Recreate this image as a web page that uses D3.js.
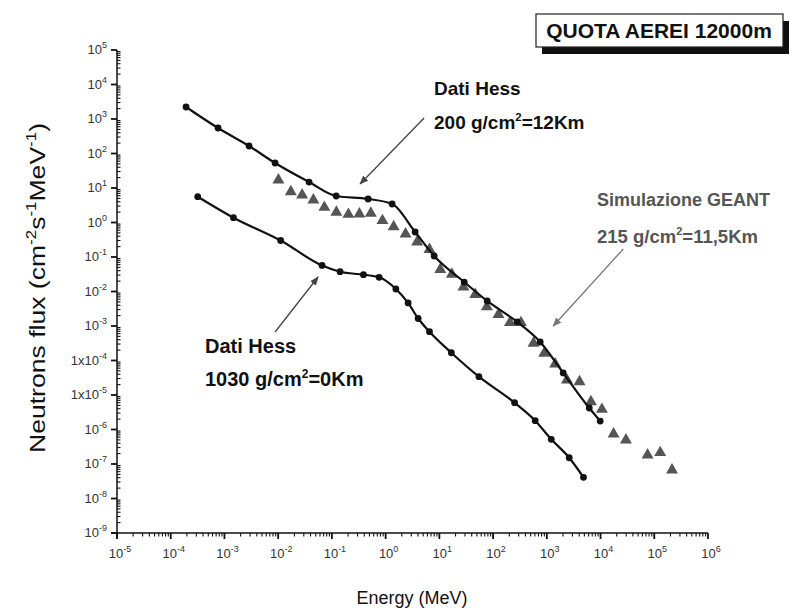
<!DOCTYPE html>
<html>
<head>
<meta charset="utf-8">
<script src="https://cdn.jsdelivr.net/npm/d3@7"></script>
<style>
  body { margin: 0; background: #fff; }
  svg { display: block; font-family: "Liberation Sans", Arial, sans-serif; }
</style>
</head>
<body>
<svg id="chart" width="807" height="612"></svg>
<script>
// Hess data, 200 g/cm2 (12 km)
const hessHighE = [1.93e-4, 7.6e-4, 2.87e-3, 8.75e-3, 3.76e-2, 0.12, 0.472, 1.32, 3.54, 8.0, 29, 77.6, 281, 753, 2020, 6170, 9860]
const hessHighF = [2230, 548, 165, 53.1, 14.9, 5.86, 4.8, 3.44, 0.531, 0.107, 1.88e-2, 5.31e-3, 1.31e-3, 3.44e-4, 4.35e-5, 4.2e-6, 1.76e-6]

// Hess data, 1030 g/cm2 (sea level)
const hessLowE = [3.18e-4, 1.47e-3, 1.11e-2, 6.56e-2, 0.142, 0.386, 0.757, 1.55, 2.62, 4.03, 6.55, 16.7, 54.5, 251, 608, 1210, 2610, 4820]
const hessLowF = [5.6, 1.38, 0.301, 5.68e-2, 3.75e-2, 3.07e-2, 2.58e-2, 1.18e-2, 4.65e-3, 1.65e-3, 6.84e-4, 1.68e-4, 3.39e-5, 5.98e-6, 1.8e-6, 5.2e-7, 1.52e-7, 4.11e-8]

// GEANT simulation, 215 g/cm2
const geantE = [1.01e-2, 1.72e-2, 2.79e-2, 4.52e-2, 7.24e-2, 0.121, 0.203, 0.325, 0.53, 0.871, 1.41, 2.35, 3.86, 6.55, 10.4, 17.1, 28.1, 46.5, 76.7, 126, 206, 330, 565, 895, 1430, 2370, 4060, 6620, 10600, 17500, 29700, 75000, 129000, 214000]
const geantF = [17.1, 7.82, 6.27, 4.49, 2.76, 1.98, 1.73, 1.76, 1.85, 1.13, 0.755, 0.465, 0.272, 0.165, 4.35e-2, 3.17e-2, 1.35e-2, 8.18e-3, 3.62e-3, 2.15e-3, 1.25e-3, 1.25e-3, 3.16e-4, 1.62e-4, 7.93e-5, 2.72e-5, 2.43e-5, 6.4e-6, 3.85e-6, 7.41e-7, 4.97e-7, 1.82e-7, 2.13e-7, 6.7e-8]

const xExps = [-5, -4, -3, -2, -1, 0, 1, 2, 3, 4, 5, 6]
const yExps = [5, 4, 3, 2, 1, 0, -1, -2, -3, -4, -5, -6, -7, -8, -9]
const yPrefixed = [-4, -5] // shown as 1x10^n

const svg = d3.select("#chart")
const x = d3.scaleLog().domain([1e-5, 1e6]).range([117, 708])
const y = d3.scaleLog().domain([1e-9, 1e5]).range([533, 50])

const zip = (a, b) => a.map((v, i) => [v, b[i]])

// minor tick values: 2..9 x 10^k
const minorX = []
for (let k = -5; k < 6; k++) for (let m = 2; m <= 9; m++) minorX.push(m * Math.pow(10, k))
const minorY = []
for (let k = -9; k < 5; k++) for (let m = 2; m <= 9; m++) minorY.push(m * Math.pow(10, k))

const axisColor = "#111"
const axes = svg.append("g").attr("stroke", axisColor).attr("stroke-width", 1.5)

// x axis
axes.append("line").attr("x1", x(1e-5) - 6).attr("x2", x(1e6)).attr("y1", y(1e-9)).attr("y2", y(1e-9))
axes.selectAll(".xmaj").data(xExps).join("line")
  .attr("x1", (d) => x(Math.pow(10, d))).attr("x2", (d) => x(Math.pow(10, d)))
  .attr("y1", y(1e-9)).attr("y2", y(1e-9) + 6).attr("stroke-width", 1.8)
axes.selectAll(".xmin").data(minorX).join("line")
  .attr("x1", (d) => x(d)).attr("x2", (d) => x(d))
  .attr("y1", y(1e-9)).attr("y2", y(1e-9) + 3.5).attr("stroke-width", 1.1)

// y axis
axes.append("line").attr("x1", x(1e-5)).attr("x2", x(1e-5)).attr("y1", y(1e5)).attr("y2", y(1e-9) + 6)
axes.selectAll(".ymaj").data(yExps).join("line")
  .attr("x1", x(1e-5) - 6).attr("x2", x(1e-5))
  .attr("y1", (d) => y(Math.pow(10, d))).attr("y2", (d) => y(Math.pow(10, d))).attr("stroke-width", 1.8)
axes.selectAll(".ymin").data(minorY).join("line")
  .attr("x1", x(1e-5)).attr("x2", x(1e-5) + 3.5)
  .attr("y1", (d) => y(d)).attr("y2", (d) => y(d)).attr("stroke-width", 1.1)

// tick labels with superscript exponents
const labColor = "#333"
const xl = svg.append("g").attr("fill", labColor).attr("font-size", 13).attr("text-anchor", "middle")
xExps.forEach((e) => {
  const t = xl.append("text").attr("x", x(Math.pow(10, e)) + 3).attr("y", y(1e-9) + 25)
  t.append("tspan").text("10")
  t.append("tspan").attr("dy", -6).attr("font-size", 9).text(e)
})
const yl = svg.append("g").attr("fill", labColor).attr("font-size", 13).attr("text-anchor", "end")
yExps.forEach((e) => {
  const t = yl.append("text").attr("x", x(1e-5) - 10).attr("y", y(Math.pow(10, e)) + 4)
  t.append("tspan").text(yPrefixed.includes(e) ? "1x10" : "10")
  t.append("tspan").attr("dy", -6).attr("font-size", 9).text(e)
})

// axis titles
svg.append("text").attr("x", 412).attr("y", 604).attr("text-anchor", "middle")
  .attr("font-size", 18).attr("fill", "#111").text("Energy (MeV)")
const yt = svg.append("text").attr("transform", "translate(45,288) rotate(-90)")
  .attr("text-anchor", "middle").attr("font-size", 22).attr("fill", "#111")
  .attr("textLength", 330).attr("lengthAdjust", "spacingAndGlyphs")
yt.append("tspan").text("Neutrons flux (cm")
yt.append("tspan").attr("dy", -9).attr("font-size", 14).text("-2")
yt.append("tspan").attr("dy", 9).text("s")
yt.append("tspan").attr("dy", -9).attr("font-size", 14).text("-1")
yt.append("tspan").attr("dy", 9).text("MeV")
yt.append("tspan").attr("dy", -9).attr("font-size", 14).text("-1")
yt.append("tspan").attr("dy", 9).text(")")

// data curves
const line = d3.line().x((d) => x(d[0])).y((d) => y(d[1])).curve(d3.curveMonotoneX)
const plot = svg.append("g")

// GEANT triangles first (behind)
plot.selectAll(".tri").data(zip(geantE, geantF)).join("path")
  .attr("d", d3.symbol(d3.symbolTriangle, 62))
  .attr("transform", (d) => `translate(${x(d[0])},${y(d[1])})`)
  .attr("fill", "#555")

for (let s of [zip(hessHighE, hessHighF), zip(hessLowE, hessLowF)]) {
  plot.append("path").datum(s).attr("d", line)
    .attr("fill", "none").attr("stroke", "#111").attr("stroke-width", 2.2)
  plot.append("g").selectAll("circle").data(s).join("circle")
    .attr("cx", (d) => x(d[0])).attr("cy", (d) => y(d[1])).attr("r", 3.4).attr("fill", "#111")
}

// arrows
const defs = svg.append("defs")
function arrowMarker(id, col) {
  defs.append("marker").attr("id", id).attr("viewBox", "0 0 10 10").attr("refX", 9).attr("refY", 5)
    .attr("markerWidth", 7).attr("markerHeight", 7).attr("orient", "auto")
    .append("path").attr("d", "M0,1 L10,5 L0,9 Z").attr("fill", col)
}
arrowMarker("ah1", "#444")
arrowMarker("ah2", "#777")

const arrows = [
  { from: [5.2, 1070], to: [0.335, 13.1], col: "#444", id: "ah1" },
  { from: [8.75e-3, 6.7e-4], to: [5.53e-2, 2.63e-2], col: "#444", id: "ah1" },
  { from: [26500, 0.171], to: [1315, 1e-3], col: "#777", id: "ah2" },
]
svg.append("g").selectAll("line").data(arrows).join("line")
  .attr("x1", (d) => x(d.from[0])).attr("y1", (d) => y(d.from[1]))
  .attr("x2", (d) => x(d.to[0])).attr("y2", (d) => y(d.to[1]))
  .attr("stroke", (d) => d.col).attr("stroke-width", 1.3)
  .attr("marker-end", (d) => `url(#${d.id})`)

// annotation labels
function label(px, py, size, main, sup, rest, col) {
  const t = svg.append("text").attr("x", px).attr("y", py).attr("font-size", size)
    .attr("font-weight", "bold").attr("fill", col)
  t.append("tspan").text(main)
  if (sup) {
    t.append("tspan").attr("dy", -8).attr("font-size", size * 0.6).text(sup)
    t.append("tspan").attr("dy", 8).text(rest)
  }
}
label(434, 95, 19, "Dati Hess", null, null, "#111")
label(434, 129, 19, "200 g/cm", "2", "=12Km", "#111")
label(205, 353, 20, "Dati Hess", null, null, "#111")
label(205, 386, 20, "1030 g/cm", "2", "=0Km", "#111")
label(597, 206, 18, "Simulazione GEANT", null, null, "#555")
label(597, 243, 18.5, "215 g/cm", "2", "=11,5Km", "#555")

// title box with drop shadow
const box = svg.append("g")
box.append("rect").attr("x", 542).attr("y", 21).attr("width", 247).attr("height", 33).attr("fill", "#111")
box.append("rect").attr("x", 536).attr("y", 14).attr("width", 247).attr("height", 33)
  .attr("fill", "#fff").attr("stroke", "#222").attr("stroke-width", 1.2)
box.append("text").attr("x", 659).attr("y", 38).attr("text-anchor", "middle")
  .attr("font-size", 21).attr("font-weight", "bold").attr("fill", "#111").text("QUOTA AEREI 12000m")
</script>
</body>
</html>
